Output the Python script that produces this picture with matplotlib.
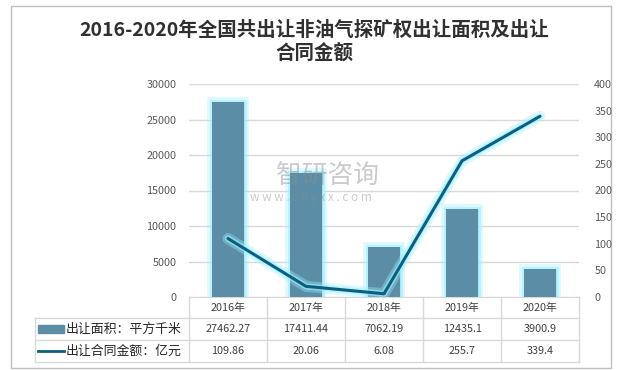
import matplotlib
matplotlib.use("Agg")
import matplotlib.pyplot as plt
import matplotlib.patheffects as pe
from matplotlib.patches import Rectangle
from matplotlib.lines import Line2D

plt.rcParams['font.family'] = ['Noto Sans CJK SC', 'DejaVu Sans']

years = ['2016年', '2017年', '2018年', '2019年', '2020年']
area = [27462.27, 17411.44, 7062.19, 12435.1, 3900.9]
amount = [109.86, 20.06, 6.08, 255.7, 339.4]
area_labels = ['27462.27', '17411.44', '7062.19', '12435.1', '3900.9']
amount_labels = ['109.86', '20.06', '6.08', '255.7', '339.4']
series_names = ['出让面积：平方千米', '出让合同金额：亿元']
title = '2016-2020年全国共出让非油气探矿权出让面积及出让\n合同金额'

W, H = 622, 370
bar_color = '#5b8ea6'
line_color = '#0c5f7e'
glow = '#9ff0ff'
grid_color = '#d9d9d9'
txt_color = '#595959'

fig = plt.figure(figsize=(W / 100, H / 100), dpi=100)

def fx(px):
    return px / W

def fy(py):
    return 1 - py / H

# outer border
fig.add_artist(Rectangle((fx(11), fy(368)), fx(600), 362 / H, transform=fig.transFigure,
                         fill=False, edgecolor='#bfbfbf', linewidth=1))

fig.text(fx(314), fy(42), title, ha='center', va='center', fontsize=14,
         fontweight='bold', color='#303030', linespacing=1.2)

left, right, top, bottom = 189, 579, 84, 297
ax = fig.add_axes([fx(left), fy(bottom), fx(right - left), (bottom - top) / H])
ax2 = ax.twinx()

x = list(range(len(years)))
bars = ax.bar(x, area, width=0.41, color=bar_color, zorder=3)
for b in bars:
    b.set_path_effects([pe.Stroke(linewidth=7, foreground=glow, alpha=0.35),
                        pe.Stroke(linewidth=3.5, foreground=glow, alpha=0.6),
                        pe.Normal()])

ax2.plot(x, amount, color=line_color, linewidth=2.2, solid_capstyle='round', zorder=4,
         path_effects=[pe.Stroke(linewidth=8, foreground=glow, alpha=0.35),
                       pe.Stroke(linewidth=4.5, foreground=glow, alpha=0.6),
                       pe.Normal()])

ax.set_xlim(-0.5, 4.5)
ax.set_ylim(0, 30000)
ax2.set_ylim(0, 400)
ax.set_yticks(range(0, 30001, 5000))
ax2.set_yticks(range(0, 401, 50))
ax.set_xticks([])
ax.yaxis.grid(True, color=grid_color, linewidth=1)
ax.set_axisbelow(True)
for a in (ax, ax2):
    for s in a.spines.values():
        s.set_visible(False)
    a.tick_params(axis='y', length=0, labelsize=7.8, labelcolor=txt_color)
ax.tick_params(axis='y', pad=9)
ax2.tick_params(axis='y', pad=11)
ax.spines['bottom'].set_visible(True)
ax.spines['bottom'].set_color(grid_color)
ax2.set_zorder(ax.get_zorder() + 1)
ax2.patch.set_visible(False)

# data table below the plot
tab_left = 35
rows_y = [297, 318, 340, 362]
col_w = (right - left) / len(years)
line_kw = dict(color=grid_color, linewidth=1, transform=fig.transFigure)
for yy in rows_y[1:]:
    fig.add_artist(Line2D([fx(tab_left), fx(right)], [fy(yy), fy(yy)], **line_kw))
for i in range(len(years) + 1):
    xx = left + i * col_w
    fig.add_artist(Line2D([fx(xx), fx(xx)], [fy(rows_y[0]), fy(rows_y[3])], **line_kw))
fig.add_artist(Line2D([fx(tab_left), fx(tab_left)], [fy(rows_y[1]), fy(rows_y[3])], **line_kw))

rows = [years, area_labels, amount_labels]
for r, vals in enumerate(rows):
    yc = (rows_y[r] + rows_y[r + 1]) / 2
    for i, v in enumerate(vals):
        fig.text(fx(left + (i + 0.5) * col_w), fy(yc), v, ha='center', va='center',
                 fontsize=7.8, color='#404040')

# legend keys in the table
y1 = (rows_y[1] + rows_y[2]) / 2
y2 = (rows_y[2] + rows_y[3]) / 2
fig.add_artist(Rectangle((fx(38), fy(y1 + 4)), fx(26), 8 / H, transform=fig.transFigure,
                         color=bar_color))
fig.add_artist(Line2D([fx(38), fx(64)], [fy(y2), fy(y2)], color=line_color, linewidth=2,
                      transform=fig.transFigure))
fig.text(fx(66), fy(y1), series_names[0], ha='left', va='center', fontsize=9.3, color='#262626')
fig.text(fx(66), fy(y2), series_names[1], ha='left', va='center', fontsize=9.3, color='#262626')

# watermark
fig.text(fx(328), fy(176), '智研咨询', ha='center', va='center', fontsize=18.5,
         color='#8c8c8c', alpha=0.45)
fig.text(fx(311), fy(198), 'w w w . c h y x x . c o m', ha='center', va='center',
         fontsize=8.5, color='#8c8c8c', alpha=0.45)

fig.savefig('out.png', dpi=100)
